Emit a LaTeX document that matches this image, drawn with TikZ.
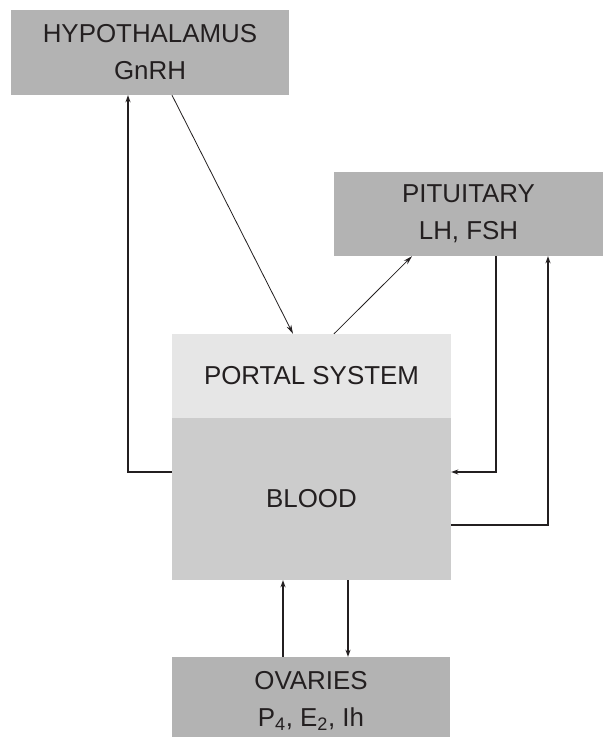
\documentclass[tikz,border=0pt]{standalone}
\usepackage{fontspec}
\setmainfont{Liberation Sans}
\usetikzlibrary{arrows.meta}
\definecolor{boxdark}{HTML}{B3B3B3}
\definecolor{boxmid}{HTML}{CCCCCC}
\definecolor{boxlight}{HTML}{E6E6E6}
\definecolor{ink}{HTML}{231F20}
\tikzset{
  organ/.style={fill=boxdark, draw=none, inner sep=0pt, align=center, text=ink,
    font=\fontsize{26}{37}\selectfont},
  thickconn/.style={draw=ink, line width=2bp, -{Stealth[length=7bp,width=5bp]}},
  thinconn/.style={draw=ink, line width=0.8bp, -{Stealth[length=9bp,width=5bp]}}
}
\begin{document}
\begin{tikzpicture}[x=1bp,y=-1bp]
\fill[white] (0,0) rectangle (603,737);
\useasboundingbox (0,0) rectangle (603,737);
\node[organ, minimum width=278bp, minimum height=85bp] (hypo) at (150,52.5) {HYPOTHALAMUS\\GnRH};
\node[organ, minimum width=269bp, minimum height=84bp] (pit) at (468.5,214) {PITUITARY\\LH, FSH};
\node[organ, fill=boxlight, minimum width=279bp, minimum height=84bp] (portal) at (311.5,376) {PORTAL SYSTEM};
\node[organ, fill=boxmid, minimum width=279bp, minimum height=162bp] (blood) at (311.5,499) {BLOOD};
\node[organ, minimum width=278bp, minimum height=80bp] (ov) at (311,697) {};
\node[organ, fill=none] (ovtext) at (311,701) {OVARIES\\P\textsubscript{4}, E\textsubscript{2}, Ih};
% feedback to hypothalamus
\draw[thickconn] (blood.west |- 0,472) -| (hypo.south -| 128,0);
% hypothalamus to portal system
\draw[thinconn] (hypo.south -| 172,0) -- (portal.north -| 293,0);
% portal system to pituitary
\draw[thinconn] (portal.north -| 334,0) -- (pit.south -| 412,0);
% pituitary to blood
\draw[thickconn] (pit.south -| 496,0) |- (blood.east |- 0,472);
% blood to pituitary
\draw[thickconn] (blood.east |- 0,525) -| (pit.south -| 548,0);
% ovaries to blood
\draw[thickconn] (ov.north -| 283,0) -- (blood.south -| 283,0);
% blood to ovaries
\draw[thickconn] (blood.south -| 348,0) -- (ov.north -| 348,0);
\end{tikzpicture}
\end{document}
